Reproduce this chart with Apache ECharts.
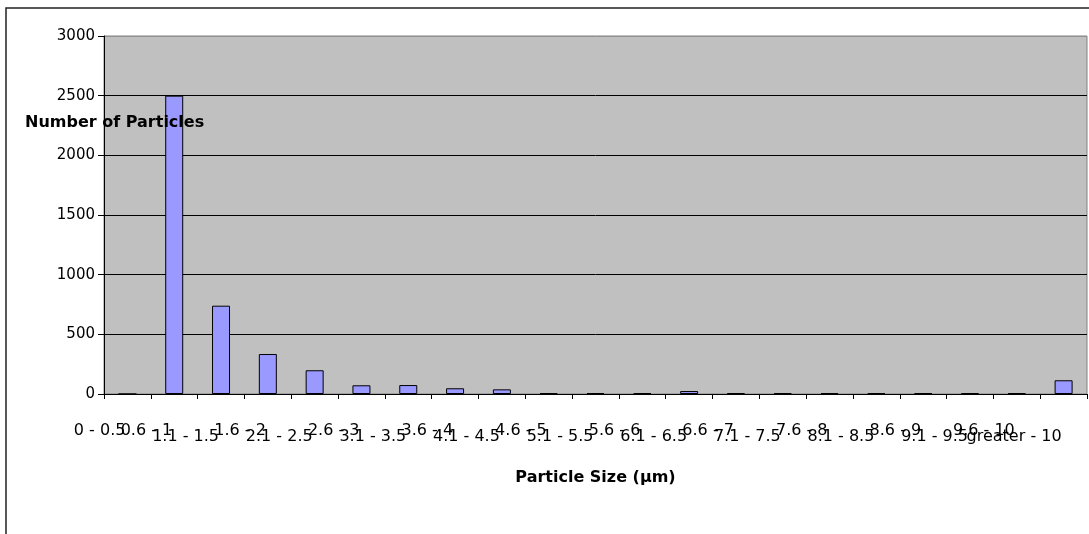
<!DOCTYPE html>
<html>
<head>
<meta charset="utf-8">
<script src="https://cdn.jsdelivr.net/npm/echarts@6/dist/echarts.min.js"></script>
<style>html,body{margin:0;padding:0;background:#fff}#c{width:1089px;height:534px}</style>
</head>
<body>
<div id="c"></div>
<script>
const categories = ['0 - 0.5','0.6 - 1','1.1 - 1.5','1.6 - 2','2.1 - 2.5','2.6 - 3','3.1 - 3.5','3.6 - 4','4.1 - 4.5','4.6 - 5','5.1 - 5.5','5.6 - 6','6.1 - 6.5','6.6 - 7','7.1 - 7.5','7.6 - 8','8.1 - 8.5','8.6 - 9','9.1 - 9.5','9.6 - 10','greater - 10'];
const particleCounts = [0, 2500, 740, 335, 199, 73, 75, 48, 39, 8, 8, 8, 25, 8, 8, 8, 8, 8, 8, 8, 115];
const yTicks = {min: 0, max: 3000, interval: 500};
const xTitle = 'Particle Size (µm)';
const yTitle = 'Number of Particles';

const FONT = 'DejaVu Sans';
const chart = echarts.init(document.getElementById('c'), null, {renderer: 'canvas'});
chart.setOption({
  animation: false,
  backgroundColor: '#fff',
  textStyle: {fontFamily: FONT},
  title: [{
    text: yTitle, left: 25, top: 115, padding: 0,
    textStyle: {fontFamily: FONT, fontSize: 16, fontWeight: 'bold', color: '#000'}
  }],
  graphic: [{
    type: 'rect', shape: {x: 6, y: 8, width: 1200, height: 700},
    style: {fill: 'none', stroke: '#222', lineWidth: 1.5}, silent: true, z: 100
  }],
  grid: {left: 104, right: 2, top: 36, bottom: 140, show: true, backgroundColor: '#c0c0c0', borderColor: '#808080', borderWidth: 1},
  xAxis: {
    type: 'category', data: categories,
    name: xTitle, nameLocation: 'middle', nameGap: 76,
    nameTextStyle: {fontFamily: FONT, fontSize: 16, fontWeight: 'bold', color: '#000'},
    axisLine: {lineStyle: {color: '#000', width: 1}},
    axisTick: {show: true, alignWithLabel: false, length: 5, interval: 0, lineStyle: {color: '#000'}},
    axisLabel: {
      interval: 0, margin: 29, align: 'right', color: '#000', fontSize: 16, fontFamily: FONT,
      formatter: function (v, i) { return (i === 0 || i % 2 === 1) ? '{hi|' + v + '}' : '{lo|' + v + '}'; },
      rich: {
        hi: {fontFamily: FONT, fontSize: 16, color: '#000', padding: [0, 2, 0, 0]},
        lo: {fontFamily: FONT, fontSize: 16, color: '#000', padding: [6, 2, 0, 0]}
      }
    },
    splitLine: {show: false}
  },
  yAxis: {
    type: 'value', min: yTicks.min, max: yTicks.max, interval: yTicks.interval,
    axisLine: {show: true, lineStyle: {color: '#000'}},
    axisTick: {show: true, length: 6, lineStyle: {color: '#000'}},
    axisLabel: {color: '#000', fontSize: 15, fontFamily: FONT, margin: 9, formatter: function (v) { return String(v); }},
    splitLine: {show: true, lineStyle: {color: ['#000', '#000', '#000', '#000', '#000', '#000', '#909090'], width: 1}}
  },
  series: [{
    type: 'bar', data: particleCounts, barWidth: 18,
    itemStyle: {color: '#9999ff', borderColor: '#000', borderWidth: 1}
  }]
});
</script>
</body>
</html>
